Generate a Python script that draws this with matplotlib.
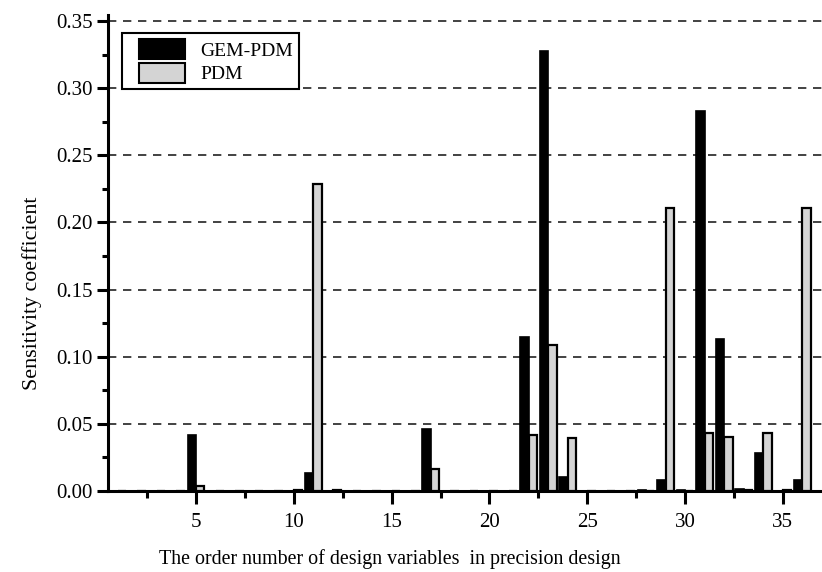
import matplotlib
matplotlib.use("Agg")
import matplotlib.pyplot as plt
import numpy as np
from matplotlib.ticker import MultipleLocator
from matplotlib.patches import Patch, Rectangle
from matplotlib.legend_handler import HandlerPatch

variables = list(range(1, 38))
gem_pdm_nonzero = {5: 0.042, 11: 0.0134, 17: 0.046, 22: 0.115, 23: 0.328,
                   24: 0.0104, 28: 0.0008, 29: 0.008, 30: 0.0008, 31: 0.283,
                   32: 0.113, 33: 0.0013, 34: 0.0283, 36: 0.0085}
pdm_nonzero = {5: 0.0035, 10: 0.0006, 11: 0.229, 12: 0.0006, 17: 0.0167, 22: 0.042,
               23: 0.109, 24: 0.0395, 29: 0.211, 31: 0.0435, 32: 0.0405,
               33: 0.0006, 34: 0.0435, 35: 0.0006, 36: 0.211}
gem_pdm = [gem_pdm_nonzero.get(v, 0.0) for v in variables]
pdm = [pdm_nonzero.get(v, 0.0) for v in variables]
series_names = ["GEM-PDM", "PDM"]
xticks = [5, 10, 15, 20, 25, 30, 35]
yticks = [0.00, 0.05, 0.10, 0.15, 0.20, 0.25, 0.30, 0.35]

plt.rcParams['font.family'] = ['Liberation Serif', 'DejaVu Serif']

fig = plt.figure(figsize=(8.22, 5.72), dpi=100)
ax = fig.add_axes([0.1314, 0.1416, 0.8686, 0.8322])

x = np.array(variables, dtype=float)
w = 0.43
gray = '#d4d4d4'
ax.bar(x - w / 2, gem_pdm, width=w, color='black', edgecolor='black', linewidth=1.2, zorder=3)
ax.bar(x + w / 2, pdm, width=w, color=gray, edgecolor='black', linewidth=1.6, zorder=3)

ax.set_xlim(0.5, 37)
ax.set_ylim(0, 0.3545)
ax.set_xticks(xticks)
ax.set_xticklabels([str(t) for t in xticks])
ax.set_yticks(yticks)
ax.set_yticklabels([f"{t:.2f}" for t in yticks])
ax.xaxis.set_minor_locator(MultipleLocator(2.5))
ax.yaxis.set_minor_locator(MultipleLocator(0.025))

for s in ['top', 'right']:
    ax.spines[s].set_visible(False)
for s in ['left', 'bottom']:
    ax.spines[s].set_linewidth(2.2)

ax.tick_params(axis='y', which='major', direction='out', length=8, width=2.2, labelsize=15, pad=3)
ax.tick_params(axis='y', which='minor', direction='out', length=4.3, width=2.2)
ax.tick_params(axis='x', which='major', direction='out', length=9, width=2.2, labelsize=15, pad=7)
ax.tick_params(axis='x', which='minor', direction='out', length=5, width=2.2)

ax.yaxis.grid(True, linestyle=(0, (5, 4)), color='#222222', linewidth=1.2, zorder=0)
ax.set_axisbelow(True)

ax.set_xlabel("The order number of design variables  in precision design", fontsize=14.4, labelpad=12)
ax.xaxis.set_label_coords(0.394, -0.121)
ax.set_ylabel("Sensitivity coefficient", fontsize=15.8, labelpad=9)
ax.yaxis.set_label_coords(-0.093, 0.416)


def shifted_patch(legend, orig_handle, xdescent, ydescent, width, height, fontsize):
    pw = 33.0
    return Rectangle((-xdescent + width - pw, -ydescent), pw, height)


handles = [Patch(facecolor='black', edgecolor='black', linewidth=1.5),
           Patch(facecolor=gray, edgecolor='black', linewidth=1.5)]
leg = ax.legend(handles, series_names, loc='upper left', bbox_to_anchor=(0.02, 0.962),
                borderaxespad=0, fontsize=14, frameon=True, fancybox=False, edgecolor='black',
                handlelength=2.93, handleheight=1.25, handletextpad=0.77,
                borderpad=0.3, labelspacing=0.15, framealpha=1,
                handler_map={Patch: HandlerPatch(patch_func=shifted_patch)})
leg.get_frame().set_linewidth(1.5)

fig.savefig("out.png", dpi=100)
